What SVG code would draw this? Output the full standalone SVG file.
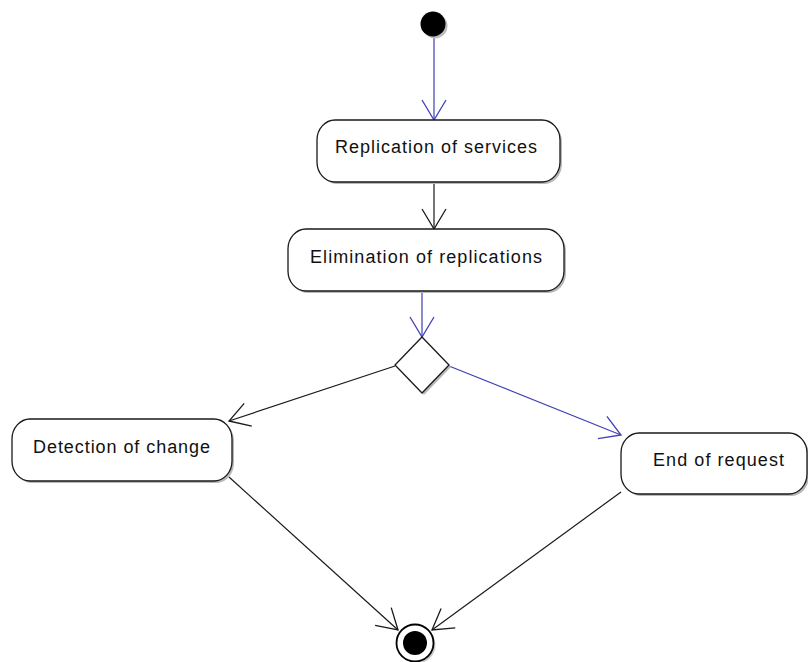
<svg xmlns="http://www.w3.org/2000/svg" width="808" height="662" viewBox="0 0 808 662">
  <style>
    .act { fill: #ffffff; stroke: #1a1a1a; stroke-width: 1.3; }
    .shadow { fill: #b8b8b8; stroke: none; }
    .lbl { font-family: "Liberation Sans", Arial, sans-serif; font-size: 18px; fill: #111111; text-anchor: middle; }
    .flow { fill: none; stroke-width: 1.2; }
    .black { stroke: #1a1a1a; }
    .blue { stroke: #3f3fb8; }
  </style>
  <defs>
    <marker id="arrowBlack" markerUnits="userSpaceOnUse" viewBox="-22 -14 24 28" refX="0" refY="0" markerWidth="24" markerHeight="28" orient="auto" overflow="visible">
      <path d="M -20 -12 L 0 0 L -20 12" fill="none" stroke="#1a1a1a" stroke-width="1.3"/>
    </marker>
    <marker id="arrowBlue" markerUnits="userSpaceOnUse" viewBox="-22 -14 24 28" refX="0" refY="0" markerWidth="24" markerHeight="28" orient="auto" overflow="visible">
      <path d="M -20 -12 L 0 0 L -20 12" fill="none" stroke="#3f3fb8" stroke-width="1.3"/>
    </marker>
  </defs>

  <rect width="808" height="662" fill="#ffffff"/>

  <g id="connectors">
    <line class="flow blue" x1="434" y1="36" x2="434" y2="120" marker-end="url(#arrowBlue)"/>
    <line class="flow black" x1="434" y1="182" x2="434" y2="229" marker-end="url(#arrowBlack)"/>
    <line class="flow blue" x1="422" y1="291" x2="422" y2="337" marker-end="url(#arrowBlue)"/>
    <line class="flow black" x1="395" y1="366" x2="229" y2="421" marker-end="url(#arrowBlack)"/>
    <line class="flow blue" x1="449" y1="366" x2="621" y2="435" marker-end="url(#arrowBlue)"/>
    <line class="flow black" x1="229" y1="477" x2="398" y2="630" marker-end="url(#arrowBlack)"/>
    <line class="flow black" x1="621" y1="492" x2="432" y2="630" marker-end="url(#arrowBlack)"/>
  </g>

  <g id="start">
    <circle cx="435" cy="26" r="12.5" fill="#bbbbbb"/>
    <circle cx="433" cy="24" r="12.5" fill="#000000"/>
  </g>

  <g id="replication">
    <rect class="shadow" x="319" y="122" width="243" height="62" rx="18" ry="20"/>
    <rect class="act" x="317" y="120" width="243" height="62" rx="18" ry="20"/>
    <text class="lbl" x="436" y="153" textLength="202" lengthAdjust="spacing">Replication of services</text>
  </g>

  <g id="elimination">
    <rect class="shadow" x="290" y="231" width="276" height="62" rx="18" ry="20"/>
    <rect class="act" x="288" y="229" width="276" height="62" rx="18" ry="20"/>
    <text class="lbl" x="426" y="263" textLength="232" lengthAdjust="spacing">Elimination of replications</text>
  </g>

  <g id="decision">
    <path class="shadow" d="M 424 339 L 451 367 L 424 395 L 397 367 Z"/>
    <path class="act" d="M 422 337 L 449 365 L 422 393 L 395 365 Z"/>
  </g>

  <g id="detection">
    <rect class="shadow" x="14" y="421" width="220" height="62" rx="18" ry="20"/>
    <rect class="act" x="12" y="419" width="220" height="62" rx="18" ry="20"/>
    <text class="lbl" x="121.5" y="453" textLength="177" lengthAdjust="spacing">Detection of change</text>
  </g>

  <g id="end-of-request">
    <rect class="shadow" x="623" y="435" width="186" height="61" rx="18" ry="20"/>
    <rect class="act" x="621" y="433" width="186" height="61" rx="18" ry="20"/>
    <text class="lbl" x="718.5" y="466" textLength="131" lengthAdjust="spacing">End of request</text>
  </g>

  <g id="final">
    <circle cx="417" cy="645" r="18.5" fill="#c8c8c8"/>
    <circle cx="415" cy="643" r="18.5" fill="#ffffff" stroke="#000000" stroke-width="1.8"/>
    <circle cx="415" cy="643" r="12" fill="#000000"/>
  </g>
</svg>
